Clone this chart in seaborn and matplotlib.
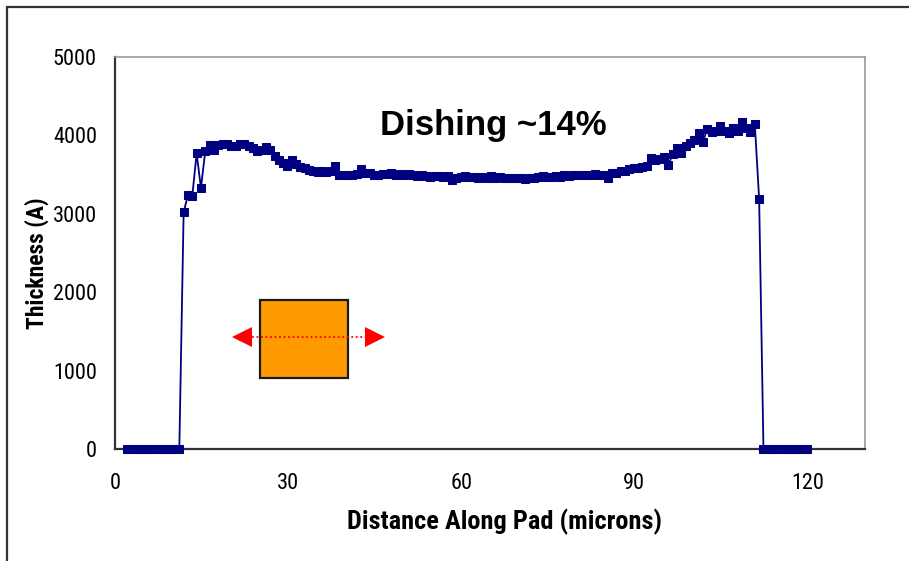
import numpy as np
import pandas as pd
import matplotlib
matplotlib.use("Agg")
import matplotlib.pyplot as plt
from matplotlib import font_manager
from matplotlib.patches import Rectangle, Polygon
from matplotlib.lines import Line2D
import seaborn as sns

# Profilometer scan across the pad: thickness sampled every 0.75 um
start_um = 2.15
step_um = 0.75
thickness_A = [
    0, 0, 0, 0, 0, 0, 0, 0, 0, 0, 0, 0, 0,
    3020, 3240, 3230, 3770, 3330, 3800, 3880,
    3815, 3880, 3895, 3885, 3870, 3870, 3890, 3885, 3860, 3840, 3800, 3820,
    3850, 3820, 3740, 3690,
    3650, 3610, 3680, 3630, 3600, 3590, 3555, 3540, 3535, 3540, 3535, 3540,
    3610, 3500, 3500, 3495, 3500, 3510, 3570, 3515, 3520, 3500, 3490,
    3510, 3505, 3515, 3500, 3505, 3500, 3510, 3490, 3480, 3495, 3480, 3470,
    3480, 3485, 3470, 3480, 3425, 3455, 3470, 3480, 3465, 3470, 3460, 3475,
    3460, 3480, 3455, 3465, 3455, 3460, 3455, 3460, 3455, 3450, 3455, 3460,
    3470, 3480, 3465, 3475, 3480, 3470, 3490, 3480,
    3490, 3495, 3490, 3500, 3495, 3505, 3500, 3490, 3455, 3515, 3520, 3550,
    3545, 3570, 3580, 3590, 3595, 3610, 3710, 3690, 3700, 3720, 3620, 3760,
    3840, 3770, 3870, 3900, 3945, 4035, 3915, 4080, 4040, 4060, 4120, 4060,
    4030, 4090, 4060, 4170, 4090, 4040, 4145, 3190,
    0, 0, 0, 0, 0, 0, 0, 0, 0, 0, 0,
]
distance_um = start_um + step_um * np.arange(len(thickness_A))

x_ticks = [0, 30, 60, 90, 120]
y_ticks = [0, 1000, 2000, 3000, 4000, 5000]
x_label = "Distance Along Pad (microns)"
y_label = "Thickness (A)"
note = "Dishing ~14%"

profile = pd.DataFrame({"distance": distance_um, "thickness": thickness_A})


def first_available(names, default):
    for name in names:
        try:
            font_manager.findfont(font_manager.FontProperties(family=name),
                                  fallback_to_default=False)
            return name
        except ValueError:
            continue
    return default


narrow = first_available(["Liberation Sans Narrow", "Arial Narrow", "DejaVu Sans Condensed",
                          "Roboto Condensed", "Open Sans Condensed", "Noto Sans Condensed"],
                         "Liberation Sans")
narrow_found = narrow != "Liberation Sans"

sns.set_theme(style="white")
plt.rcParams["font.family"] = [narrow, "Liberation Sans", "DejaVu Sans"]
for key in ("text.color", "axes.labelcolor", "xtick.labelcolor", "ytick.labelcolor"):
    plt.rcParams[key] = "black"

fig = plt.figure(figsize=(9.09, 5.61), dpi=100)
ax = fig.add_axes([0.1265, 0.1996, 0.8251, 0.6988])

navy = "#000080"
sns.lineplot(data=profile, x="distance", y="thickness", ax=ax, color=navy,
             linewidth=1.3, marker="s", markersize=5.5, markeredgecolor=navy,
             markerfacecolor=navy, sort=False, estimator=None, clip_on=False, zorder=5)

ax.set_xlim(0, 130)
ax.set_ylim(0, 5000)
ax.set_xticks(x_ticks)
ax.set_yticks(y_ticks)
ax.set_xticklabels([str(t) for t in x_ticks])
ax.set_yticklabels([str(t) for t in y_ticks])
tick_size = 16 if narrow_found else 14
ax.tick_params(axis="both", direction="out", length=5, width=1.2, color="#333333",
               labelsize=tick_size, labelcolor="black")
ax.tick_params(axis="x", pad=12)
ax.tick_params(axis="y", pad=8)

for side in ("left", "bottom"):
    ax.spines[side].set_color("#333333")
    ax.spines[side].set_linewidth(1.6)
for side in ("top", "right"):
    ax.spines[side].set_color("#9a9a9a")
    ax.spines[side].set_linewidth(1.2)

ax.set_xlabel(x_label, fontsize=19 if narrow_found else 16, fontweight="bold")
ax.set_ylabel(y_label, fontsize=17 if narrow_found else 16, fontweight="bold")
ax.xaxis.label.set_va("center")
ax.yaxis.label.set_va("center")
ax.xaxis.set_label_coords(0.5187, -0.186)
ax.yaxis.set_label_coords(-0.104, 0.474)

ax.text(65.5, 4120, note, fontsize=25, fontweight="bold", ha="center", va="center",
        color="black", family=["Liberation Sans", "DejaVu Sans"])

# Sketch of the scanned pad with the scan direction
tr = ax.transAxes
ax.add_patch(Rectangle((0.1933, 0.1811), 0.1174, 0.1989, transform=tr,
                       facecolor="#FF9900", edgecolor="#1a1a1a", linewidth=1.6, zorder=3))
ax.add_line(Line2D([0.183, 0.334], [0.2857, 0.2857], transform=tr, color="red",
                   linestyle=(0, (1, 1.5)), linewidth=1.3, zorder=4))
ax.add_patch(Polygon([[0.156, 0.2857], [0.1827, 0.3112], [0.1827, 0.2602]], closed=True,
                     transform=tr, facecolor="red", edgecolor="none", zorder=4))
ax.add_patch(Polygon([[0.360, 0.2857], [0.3333, 0.3112], [0.3333, 0.2602]], closed=True,
                     transform=tr, facecolor="red", edgecolor="none", zorder=4))

# Outer chart frame (top and left edges)
fig.add_artist(Line2D([0.0077, 1.0], [0.9875, 0.9875], transform=fig.transFigure,
                      color="#333333", linewidth=1.6))
fig.add_artist(Line2D([0.0077, 0.0077], [0.0, 0.9875], transform=fig.transFigure,
                      color="#333333", linewidth=1.6))

fig.savefig("out.png", dpi=100)
